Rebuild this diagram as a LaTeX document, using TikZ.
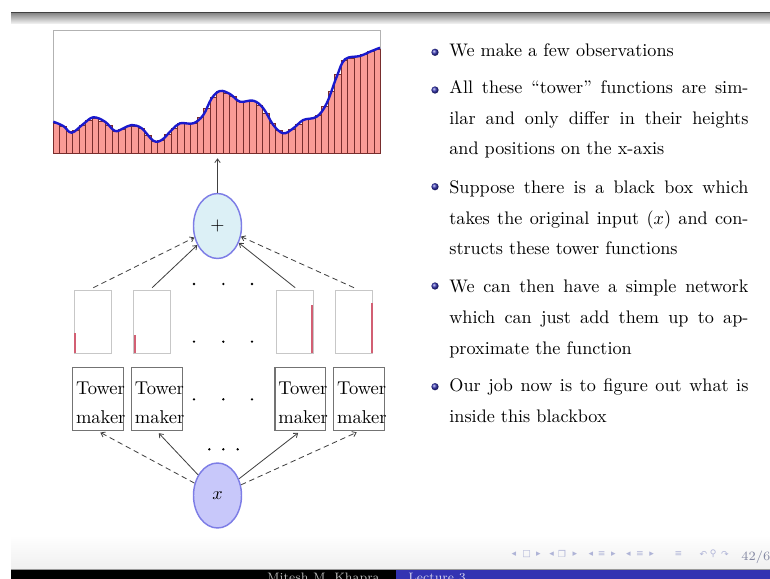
\documentclass[tikz,border=0pt]{standalone}
\usepackage{fontspec}
\newfontfamily\navfont{DejaVu Sans}
\usetikzlibrary{arrows.meta,positioning,shapes.geometric}
\definecolor{ringblue}{RGB}{125,125,230}
\definecolor{sumfill}{RGB}{220,240,246}
\definecolor{inputfill}{RGB}{200,200,250}
\definecolor{barfill}{RGB}{250,155,150}
\definecolor{baredge}{RGB}{120,45,45}
\definecolor{curveblue}{RGB}{25,25,205}
\definecolor{towerred}{RGB}{210,95,115}
\definecolor{structblue}{RGB}{51,51,178}
\definecolor{navgray}{RGB}{175,180,215}
\tikzset{
  sumnode/.style={ellipse, draw=ringblue, line width=0.8pt, minimum width=26.4pt, minimum height=35.75pt, inner sep=0pt},
  towerplot/.style={draw=black!22, line width=0.5pt, minimum width=20.35pt, minimum height=34.65pt, inner sep=0pt},
  towerbar/.style={towerred, line width=1.1pt},
  makerbox/.style={draw=black!55, line width=0.6pt, text width=24.2pt, inner xsep=1.8pt, minimum height=34.5pt, text height=11pt, align=left, font=\fontsize{10.2}{16}\selectfont},
  link/.style={black!75, line width=0.45pt},
  itemtext/.style={anchor=base west, text width=164.5pt, align=justify, inner sep=0pt, font=\fontsize{10}{16.9}\selectfont},
  footertext/.style={inner sep=0pt, font=\fontsize{6.7}{8}\selectfont},
  navsym/.style={inner sep=0pt, text=navgray, font=\navfont\fontsize{5}{5}\selectfont}
}

\begin{document}
\begin{tikzpicture}[x=0.55pt, y=-0.55pt, >={Straight Barb[length=2pt,width=3pt]}]
  \useasboundingbox (0,0) rectangle (770,579);
  \clip (0,0) rectangle (770,579);

  % slide frame
  \fill[black!75] (11,12) rectangle (770,13.5);
  \shade[top color=black!45, bottom color=black!3] (11,13.5) rectangle (770,24);
  \shade[top color=white, bottom color=black!6] (11,535) rectangle (770,569);
  \fill[black] (11,569) rectangle (396,579);
  \fill[structblue] (396,569) rectangle (770,579);
  \draw[black!40] (11,569) -- (770,569);
  \node[footertext, text=black!25, anchor=base east] (author) at (380,581.5) {Mitesh M. Khapra};
  \node[footertext, text=structblue!20, anchor=base west] (lecture) at (408,581.5) {Lecture 3};

  % approximated function
  \node[draw=black!30, line width=0.5pt, minimum width=180.2pt, minimum height=67.8pt, inner sep=0pt] (approx) at (217,91.7) {};
  \foreach \h [count=\i from 0] in {30,27.2,22.1,23.4,28.4,32.8,34.8,32.4,27.9,22,24.2,26.7,26.9,24.8,18,12.4,13,18.9,25,29.7,29.7,29.9,35.6,45.2,56.3,62,60,56.6,51.5,51.8,52.3,47.7,40.4,29.5,23.3,20.8,24.1,29.1,33.5,35.1,38.4,47.2,62.2,78.8,92.7,95,96.5,98.8,101.6,104.1}
    \draw[fill=barfill, draw=baredge, line width=0.4pt] (53+\i*6.55,153.3) rectangle ++(6.55,-\h);
  \draw[curveblue, line width=1.3pt] plot[smooth, tension=0.6] coordinates {
    (53.3,121.7) (63.3,126) (71.7,132.7) (83.3,124) (93.3,117.3) (105,121.7) (115,131)
    (123.3,128.3) (131.7,125) (141.7,128.3) (153.3,140.7) (161.7,140) (171.7,130) (180,123.3)
    (193.3,123.3) (203.3,115) (211.7,98.3) (220,91) (230,94) (240,101.7) (253.3,100.7)
    (263.3,108.3) (273.3,125) (283.3,133.3) (293.3,128.3) (303.3,120) (316.7,116.7)
    (326.7,103.3) (336.7,76.7) (345,59.3) (360,56) (370,51.7) (380,47.7)};

  % sum and input
  \node[sumnode, fill=sumfill] (sum) at (217.5,226) {$+$};
  \node[sumnode, fill=inputfill] (input) at (217.5,495.5) {$x$};

  % tower functions
  \node[towerplot] (t1) at (93.3,321.5) {};
  \node[towerplot, right=11.5pt of t1] (t2) {};
  \node[towerplot] (t3) at (295.2,321.5) {};
  \node[towerplot, right=11.5pt of t3] (t4) {};
  \draw[towerbar] ([xshift=0.6pt]t1.south west) -- ++(0,-20);
  \draw[towerbar] ([xshift=0.9pt]t2.south west) -- ++(0,-18);
  \draw[towerbar] ([xshift=-1.3pt]t3.south east) -- ++(0,-48);
  \draw[towerbar] ([xshift=-0.6pt]t4.south east) -- ++(0,-50);

  % tower makers
  \node[makerbox] (m1) at (98,399.3) {Tower\\maker};
  \node[makerbox, right=4pt of m1] (m2) {Tower\\maker};
  \node[makerbox] (m3) at (300.3,399.3) {Tower\\maker};
  \node[makerbox, right=4pt of m3] (m4) {Tower\\maker};

  % dots
  \foreach \dy in {284,341.7,399.3}
    \foreach \dx in {194,223.3,252}
      \fill (\dx,\dy) circle (0.7pt);
  \foreach \dx in {209.3,223.3,237.7}
    \fill (\dx,449.3) circle (0.7pt);

  % connections
  \draw[->, link] (sum) -- (sum |- approx.south) [shorten >=2.5pt];
  \draw[->, link, densely dashed] ([yshift=1pt]t1.north) -- (sum);
  \draw[->, link] ([yshift=1pt]t2.north) -- (sum);
  \draw[->, link] ([yshift=1pt]t3.north) -- (sum);
  \draw[->, link, densely dashed] ([yshift=1pt]t4.north) -- (sum);
  \draw[->, link, densely dashed, shorten >=1.5pt] (input) -- (m1.south);
  \draw[->, link, shorten >=1.5pt] (input) -- (m2.south);
  \draw[->, link, shorten >=1.5pt] (input) -- (m3.south);
  \draw[->, link, densely dashed, shorten >=1.5pt] (input) -- (m4.south);

  % observations
  \node[itemtext] (obs1) at (449,56.7) {We make a few observations};
  \node[itemtext] (obs2) at (449,93.3) {All these ``tower'' functions are sim-\linebreak ilar and only differ in their heights\linebreak and positions on the x-axis};
  \node[itemtext] (obs3) at (449,193.3) {Suppose there is a black box which\linebreak takes the original input $(x)$ and con-\linebreak structs these tower functions};
  \node[itemtext] (obs4) at (449,292.7) {We can then have a simple network\linebreak which can just add them up to ap-\linebreak proximate the function};
  \node[itemtext] (obs5) at (449,391.7) {Our job now is to figure out what is\linebreak inside this blackbox};
  \foreach \by in {52.3,90,186.7,286,386.7}
    \shade[ball color=structblue] (435,\by) circle (2pt);

  % navigation
  \foreach \gx/\gl [count=\k] in {514/◂,526.7/□,538.3/▸,551.7/◂,562/❐,575/▸,591/◂,601.7/≡,613.3/▸,628.3/◂,640/≡,651.7/▸,678.3/≡,703.3/↶,713.3/⚲,725/↷}
    \node[navsym] (nav\k) at (\gx,554) {\gl};
  \node[inner sep=0pt, anchor=base west, text=navgray!75!black, font=\fontsize{7}{8}\selectfont] (page) at (741,560) {42/6};
\end{tikzpicture}
\end{document}
